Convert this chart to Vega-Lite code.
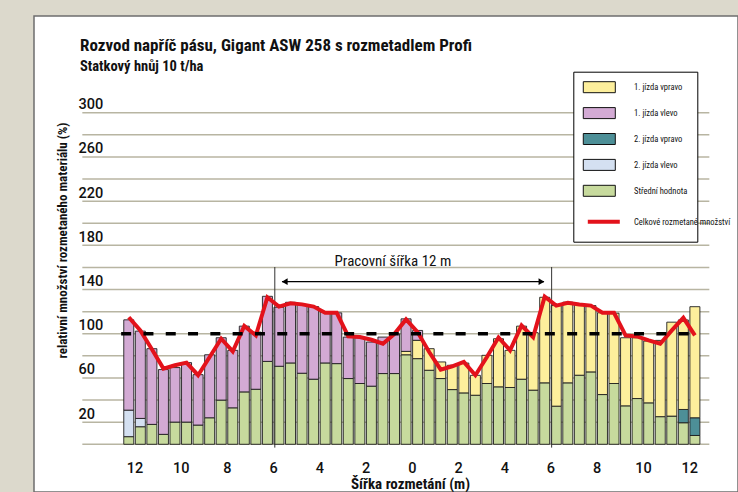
{
  "$schema": "https://vega.github.io/schema/vega-lite/v6.json",
  "autosize": {"type": "none"},
  "width": 704,
  "height": 476,
  "padding": {"left": 34, "top": 16, "right": 0, "bottom": 0},
  "background": "#dcd9cc",
  "config": {
    "view": {"fill": "#ffffff", "stroke": "#6e6e6e", "strokeWidth": 1.5},
    "font": "Liberation Sans Narrow, Arial Narrow, Roboto Condensed, DejaVu Sans Condensed, Liberation Sans, sans-serif"
  },
  "title": {
    "text": "Rozvod napříč pásu, Gigant ASW 258 s rozmetadlem Profi",
    "subtitle": "Statkový hnůj 10 t/ha",
    "anchor": "start",
    "frame": "group",
    "orient": "top",
    "offset": -58.5,
    "dx": 46,
    "fontSize": 17,
    "fontWeight": "bold",
    "color": "#111111",
    "subtitleFontSize": 14.5,
    "subtitleFontWeight": "bold",
    "subtitleColor": "#111111",
    "subtitlePadding": 5
  },
  "datasets": {
    "grid": [
      {"level": 0}, {"level": 20}, {"level": 40}, {"level": 60}, {"level": 80}, {"level": 100}, {"level": 120}, {"level": 140},
      {"level": 160}, {"level": 180}, {"level": 200}, {"level": 220}, {"level": 240}, {"level": 260}, {"level": 280}, {"level": 300}
    ],
    "bars": [
      {"x": -12.25, "part": "Střední hodnota", "jizda": "střed", "strana": "střed", "value": 6.9},
      {"x": -12.25, "part": "2. jízda vlevo", "jizda": "2", "strana": "vlevo", "value": 24},
      {"x": -12.25, "part": "1. jízda vlevo", "jizda": "1", "strana": "vlevo", "value": 81.7},
      {"x": -11.75, "part": "Střední hodnota", "jizda": "střed", "strana": "střed", "value": 15.9},
      {"x": -11.75, "part": "2. jízda vlevo", "jizda": "2", "strana": "vlevo", "value": 7.5},
      {"x": -11.75, "part": "1. jízda vlevo", "jizda": "1", "strana": "vlevo", "value": 79},
      {"x": -11.25, "part": "Střední hodnota", "jizda": "střed", "strana": "střed", "value": 18},
      {"x": -11.25, "part": "1. jízda vlevo", "jizda": "1", "strana": "vlevo", "value": 68.5},
      {"x": -10.75, "part": "Střední hodnota", "jizda": "střed", "strana": "střed", "value": 9},
      {"x": -10.75, "part": "1. jízda vlevo", "jizda": "1", "strana": "vlevo", "value": 58.6},
      {"x": -10.25, "part": "Střední hodnota", "jizda": "střed", "strana": "střed", "value": 20.1},
      {"x": -10.25, "part": "1. jízda vlevo", "jizda": "1", "strana": "vlevo", "value": 49.3},
      {"x": -9.75, "part": "Střední hodnota", "jizda": "střed", "strana": "střed", "value": 20.1},
      {"x": -9.75, "part": "1. jízda vlevo", "jizda": "1", "strana": "vlevo", "value": 53.8},
      {"x": -9.25, "part": "Střední hodnota", "jizda": "střed", "strana": "střed", "value": 17.4},
      {"x": -9.25, "part": "1. jízda vlevo", "jizda": "1", "strana": "vlevo", "value": 45.6},
      {"x": -8.75, "part": "Střední hodnota", "jizda": "střed", "strana": "střed", "value": 24},
      {"x": -8.75, "part": "1. jízda vlevo", "jizda": "1", "strana": "vlevo", "value": 57},
      {"x": -8.25, "part": "Střední hodnota", "jizda": "střed", "strana": "střed", "value": 40},
      {"x": -8.25, "part": "1. jízda vlevo", "jizda": "1", "strana": "vlevo", "value": 56.4},
      {"x": -7.75, "part": "Střední hodnota", "jizda": "střed", "strana": "střed", "value": 33},
      {"x": -7.75, "part": "1. jízda vlevo", "jizda": "1", "strana": "vlevo", "value": 52},
      {"x": -7.25, "part": "Střední hodnota", "jizda": "střed", "strana": "střed", "value": 47.4},
      {"x": -7.25, "part": "1. jízda vlevo", "jizda": "1", "strana": "vlevo", "value": 59.5},
      {"x": -6.75, "part": "Střední hodnota", "jizda": "střed", "strana": "střed", "value": 49.8},
      {"x": -6.75, "part": "1. jízda vlevo", "jizda": "1", "strana": "vlevo", "value": 51.7},
      {"x": -6.25, "part": "Střední hodnota", "jizda": "střed", "strana": "střed", "value": 75},
      {"x": -6.25, "part": "1. jízda vlevo", "jizda": "1", "strana": "vlevo", "value": 58.9},
      {"x": -5.75, "part": "Střední hodnota", "jizda": "střed", "strana": "střed", "value": 70.6},
      {"x": -5.75, "part": "1. jízda vlevo", "jizda": "1", "strana": "vlevo", "value": 53.4},
      {"x": -5.25, "part": "Střední hodnota", "jizda": "střed", "strana": "střed", "value": 73.6},
      {"x": -5.25, "part": "1. jízda vlevo", "jizda": "1", "strana": "vlevo", "value": 54.9},
      {"x": -4.75, "part": "Střední hodnota", "jizda": "střed", "strana": "střed", "value": 64.3},
      {"x": -4.75, "part": "1. jízda vlevo", "jizda": "1", "strana": "vlevo", "value": 62.1},
      {"x": -4.25, "part": "Střední hodnota", "jizda": "střed", "strana": "střed", "value": 58.9},
      {"x": -4.25, "part": "1. jízda vlevo", "jizda": "1", "strana": "vlevo", "value": 65.7},
      {"x": -3.75, "part": "Střední hodnota", "jizda": "střed", "strana": "střed", "value": 73.6},
      {"x": -3.75, "part": "1. jízda vlevo", "jizda": "1", "strana": "vlevo", "value": 45.9},
      {"x": -3.25, "part": "Střední hodnota", "jizda": "střed", "strana": "střed", "value": 73},
      {"x": -3.25, "part": "1. jízda vlevo", "jizda": "1", "strana": "vlevo", "value": 45.9},
      {"x": -2.75, "part": "Střední hodnota", "jizda": "střed", "strana": "střed", "value": 59.5},
      {"x": -2.75, "part": "1. jízda vlevo", "jizda": "1", "strana": "vlevo", "value": 37.5},
      {"x": -2.25, "part": "Střední hodnota", "jizda": "střed", "strana": "střed", "value": 55},
      {"x": -2.25, "part": "1. jízda vlevo", "jizda": "1", "strana": "vlevo", "value": 41.4},
      {"x": -1.75, "part": "Střední hodnota", "jizda": "střed", "strana": "střed", "value": 52.6},
      {"x": -1.75, "part": "1. jízda vlevo", "jizda": "1", "strana": "vlevo", "value": 39.9},
      {"x": -1.25, "part": "Střední hodnota", "jizda": "střed", "strana": "střed", "value": 64},
      {"x": -1.25, "part": "1. jízda vlevo", "jizda": "1", "strana": "vlevo", "value": 33},
      {"x": -0.75, "part": "Střední hodnota", "jizda": "střed", "strana": "střed", "value": 64},
      {"x": -0.75, "part": "1. jízda vlevo", "jizda": "1", "strana": "vlevo", "value": 36},
      {"x": -0.25, "part": "Střední hodnota", "jizda": "střed", "strana": "střed", "value": 81},
      {"x": -0.25, "part": "1. jízda vlevo", "jizda": "1", "strana": "vlevo", "value": 29.5},
      {"x": -0.25, "part": "1. jízda vpravo", "jizda": "1", "strana": "vpravo", "value": 3},
      {"x": 0.25, "part": "Střední hodnota", "jizda": "střed", "strana": "střed", "value": 77.5},
      {"x": 0.25, "part": "1. jízda vlevo", "jizda": "1", "strana": "vlevo", "value": 9},
      {"x": 0.25, "part": "1. jízda vpravo", "jizda": "1", "strana": "vpravo", "value": 16.5},
      {"x": 0.75, "part": "Střední hodnota", "jizda": "střed", "strana": "střed", "value": 67},
      {"x": 0.75, "part": "1. jízda vpravo", "jizda": "1", "strana": "vpravo", "value": 19.5},
      {"x": 1.25, "part": "Střední hodnota", "jizda": "střed", "strana": "střed", "value": 59.5},
      {"x": 1.25, "part": "1. jízda vpravo", "jizda": "1", "strana": "vpravo", "value": 15},
      {"x": 1.75, "part": "Střední hodnota", "jizda": "střed", "strana": "střed", "value": 49.5},
      {"x": 1.75, "part": "1. jízda vpravo", "jizda": "1", "strana": "vpravo", "value": 22},
      {"x": 2.25, "part": "Střední hodnota", "jizda": "střed", "strana": "střed", "value": 46.5},
      {"x": 2.25, "part": "1. jízda vpravo", "jizda": "1", "strana": "vpravo", "value": 27},
      {"x": 2.75, "part": "Střední hodnota", "jizda": "střed", "strana": "střed", "value": 44.4},
      {"x": 2.75, "part": "1. jízda vpravo", "jizda": "1", "strana": "vpravo", "value": 18},
      {"x": 3.25, "part": "Střední hodnota", "jizda": "střed", "strana": "střed", "value": 55},
      {"x": 3.25, "part": "1. jízda vpravo", "jizda": "1", "strana": "vpravo", "value": 25.5},
      {"x": 3.75, "part": "Střední hodnota", "jizda": "střed", "strana": "střed", "value": 52},
      {"x": 3.75, "part": "1. jízda vpravo", "jizda": "1", "strana": "vpravo", "value": 43.5},
      {"x": 4.25, "part": "Střední hodnota", "jizda": "střed", "strana": "střed", "value": 51.4},
      {"x": 4.25, "part": "1. jízda vpravo", "jizda": "1", "strana": "vpravo", "value": 33.6},
      {"x": 4.75, "part": "Střední hodnota", "jizda": "střed", "strana": "střed", "value": 58.9},
      {"x": 4.75, "part": "1. jízda vpravo", "jizda": "1", "strana": "vpravo", "value": 48},
      {"x": 5.25, "part": "Střední hodnota", "jizda": "střed", "strana": "střed", "value": 49},
      {"x": 5.25, "part": "1. jízda vpravo", "jizda": "1", "strana": "vpravo", "value": 52},
      {"x": 5.75, "part": "Střední hodnota", "jizda": "střed", "strana": "střed", "value": 55.6},
      {"x": 5.75, "part": "1. jízda vpravo", "jizda": "1", "strana": "vpravo", "value": 77.4},
      {"x": 6.25, "part": "Střední hodnota", "jizda": "střed", "strana": "střed", "value": 34.5},
      {"x": 6.25, "part": "1. jízda vpravo", "jizda": "1", "strana": "vpravo", "value": 91},
      {"x": 6.75, "part": "Střední hodnota", "jizda": "střed", "strana": "střed", "value": 55.6},
      {"x": 6.75, "part": "1. jízda vpravo", "jizda": "1", "strana": "vpravo", "value": 73},
      {"x": 7.25, "part": "Střední hodnota", "jizda": "střed", "strana": "střed", "value": 62.5},
      {"x": 7.25, "part": "1. jízda vpravo", "jizda": "1", "strana": "vpravo", "value": 64.5},
      {"x": 7.75, "part": "Střední hodnota", "jizda": "střed", "strana": "střed", "value": 65.5},
      {"x": 7.75, "part": "1. jízda vpravo", "jizda": "1", "strana": "vpravo", "value": 60},
      {"x": 8.25, "part": "Střední hodnota", "jizda": "střed", "strana": "střed", "value": 45},
      {"x": 8.25, "part": "1. jízda vpravo", "jizda": "1", "strana": "vpravo", "value": 74},
      {"x": 8.75, "part": "Střední hodnota", "jizda": "střed", "strana": "střed", "value": 55},
      {"x": 8.75, "part": "1. jízda vpravo", "jizda": "1", "strana": "vpravo", "value": 63.6},
      {"x": 9.25, "part": "Střední hodnota", "jizda": "střed", "strana": "střed", "value": 34.8},
      {"x": 9.25, "part": "1. jízda vpravo", "jizda": "1", "strana": "vpravo", "value": 61.6},
      {"x": 9.75, "part": "Střední hodnota", "jizda": "střed", "strana": "střed", "value": 41.4},
      {"x": 9.75, "part": "1. jízda vpravo", "jizda": "1", "strana": "vpravo", "value": 55},
      {"x": 10.25, "part": "Střední hodnota", "jizda": "střed", "strana": "střed", "value": 37.5},
      {"x": 10.25, "part": "1. jízda vpravo", "jizda": "1", "strana": "vpravo", "value": 55.9},
      {"x": 10.75, "part": "Střední hodnota", "jizda": "střed", "strana": "střed", "value": 25},
      {"x": 10.75, "part": "1. jízda vpravo", "jizda": "1", "strana": "vpravo", "value": 69},
      {"x": 11.25, "part": "Střední hodnota", "jizda": "střed", "strana": "střed", "value": 25.5},
      {"x": 11.25, "part": "1. jízda vpravo", "jizda": "1", "strana": "vpravo", "value": 85},
      {"x": 11.75, "part": "Střední hodnota", "jizda": "střed", "strana": "střed", "value": 19.5},
      {"x": 11.75, "part": "2. jízda vpravo", "jizda": "2", "strana": "vpravo", "value": 12},
      {"x": 11.75, "part": "1. jízda vpravo", "jizda": "1", "strana": "vpravo", "value": 81},
      {"x": 12.25, "part": "Střední hodnota", "jizda": "střed", "strana": "střed", "value": 8},
      {"x": 12.25, "part": "2. jízda vpravo", "jizda": "2", "strana": "vpravo", "value": 16},
      {"x": 12.25, "part": "1. jízda vpravo", "jizda": "1", "strana": "vpravo", "value": 100.5}
    ],
    "celkem": [
      {"x": -12.25, "total": 115}, {"x": -11.75, "total": 103}, {"x": -11.25, "total": 86}, {"x": -10.75, "total": 68.5},
      {"x": -10.25, "total": 71.5}, {"x": -9.75, "total": 73.9}, {"x": -9.25, "total": 62.5}, {"x": -8.75, "total": 79},
      {"x": -8.25, "total": 95.5}, {"x": -7.75, "total": 84}, {"x": -7.25, "total": 107}, {"x": -6.75, "total": 98.5},
      {"x": -6.25, "total": 133}, {"x": -5.75, "total": 124.6}, {"x": -5.25, "total": 127.6}, {"x": -4.75, "total": 126.6},
      {"x": -4.25, "total": 124.6}, {"x": -3.75, "total": 119}, {"x": -3.25, "total": 119}, {"x": -2.75, "total": 97.6},
      {"x": -2.25, "total": 97}, {"x": -1.75, "total": 94.6}, {"x": -1.25, "total": 91}, {"x": -0.75, "total": 100},
      {"x": -0.25, "total": 113}, {"x": 0.25, "total": 101.5}, {"x": 0.75, "total": 83.5}, {"x": 1.25, "total": 67.6},
      {"x": 1.75, "total": 70.6}, {"x": 2.25, "total": 74.5}, {"x": 2.75, "total": 62.5}, {"x": 3.25, "total": 79},
      {"x": 3.75, "total": 96.6}, {"x": 4.25, "total": 85}, {"x": 4.75, "total": 107.5}, {"x": 5.25, "total": 97},
      {"x": 5.75, "total": 133.6}, {"x": 6.25, "total": 125.5}, {"x": 6.75, "total": 128}, {"x": 7.25, "total": 126.4},
      {"x": 7.75, "total": 125.5}, {"x": 8.25, "total": 119}, {"x": 8.75, "total": 119}, {"x": 9.25, "total": 98.5},
      {"x": 9.75, "total": 97.6}, {"x": 10.25, "total": 94}, {"x": 10.75, "total": 91}, {"x": 11.25, "total": 103},
      {"x": 11.75, "total": 114.4}, {"x": 12.25, "total": 98.5}
    ],
    "hranice": [{"x": -5.93}, {"x": 6.05}]
  },
  "layer": [
    {
      "data": {"name": "grid"},
      "mark": {"type": "rule", "color": "#b8b5a2", "strokeWidth": 1.5},
      "encoding": {
        "y": {"field": "level", "type": "quantitative", "scale": {"domain": [-43.16, 387.5], "nice": false, "zero": false}},
        "x": {"datum": -14.26, "type": "quantitative", "scale": {"domain": [-16.135, 13.899], "nice": false, "zero": false}},
        "x2": {"datum": 12.875}
      }
    },
    {
      "data": {"name": "bars"},
      "mark": {"type": "bar", "size": 10, "stroke": "#1e1e1e", "strokeWidth": 0.9},
      "encoding": {
        "x": {
          "field": "x", "type": "quantitative",
          "scale": {"domain": [-16.135, 13.899], "nice": false, "zero": false},
          "axis": {
            "values": [-12, -10, -8, -6, -4, -2, 0, 2, 4, 6, 8, 10, 12],
            "labelExpr": "'' + abs(datum.value)",
            "offset": -47.7,
            "domain": false, "ticks": false, "tickSize": 0, "grid": false,
            "labelPadding": 17, "labelFontSize": 14.5, "labelFont": "Roboto", "labelFontWeight": 500, "labelColor": "#111111",
            "labelFlush": false, "labelOverlap": false,
            "title": "Šířka rozmetání (m)",
            "titleFontSize": 15, "titleFontWeight": "bold", "titleColor": "#111111",
            "titleX": 376, "titleY": 44.5, "titleAlign": "center", "titleBaseline": "alphabetic"
          }
        },
        "y": {
          "field": "value", "type": "quantitative", "stack": "zero",
          "scale": {"domain": [-43.16, 387.5], "nice": false, "zero": false},
          "axis": {
            "values": [20, 60, 100, 140, 180, 220, 260, 300],
            "domain": false, "ticks": false, "tickSize": 0, "grid": false,
            "labelAlign": "left", "labelBaseline": "alphabetic", "labelPadding": -44, "labelOffset": -4,
            "labelFontSize": 14.5, "labelFont": "Roboto", "labelFontWeight": 500, "labelColor": "#111111", "labelFlush": false, "labelOverlap": false,
            "title": "relativní množství rozmetaného materiálu (%)",
            "titleFontSize": 13, "titleFontWeight": "bold", "titleColor": "#111111",
            "titleAngle": -90, "titleX": 28, "titleY": 224, "titleAlign": "center", "titleBaseline": "middle"
          }
        },
        "color": {
          "field": "part", "type": "nominal",
          "scale": {
            "domain": ["1. jízda vpravo", "1. jízda vlevo", "2. jízda vpravo", "2. jízda vlevo", "Střední hodnota"],
            "range": ["#fdef9c", "#d3aad4", "#4d8f97", "#d4e0f1", "#c7da9d"]
          },
          "legend": {
            "orient": "none", "legendX": 539.3, "legendY": 55.7,
            "title": " ", "titleOrient": "bottom", "titleFontSize": 12, "titlePadding": 23,
            "fillColor": "#ffffff", "strokeColor": "#000000",
            "padding": 9.5, "symbolSize": 121, "symbolOffset": 10.5,
            "symbolType": "M-2.91,-1H2.91V1H-2.91Z",
            "symbolStrokeColor": "#111111", "symbolStrokeWidth": 1,
            "labelOffset": 28.7, "rowPadding": 9.9,
            "labelFontSize": 8.5, "labelColor": "#111111", "labelLimit": 0
          }
        },
        "order": [{"field": "jizda", "sort": "descending"}, {"field": "strana", "sort": "ascending"}]
      }
    },
    {
      "data": {"name": "hranice"},
      "mark": {"type": "rule", "color": "#333333", "strokeWidth": 1},
      "encoding": {
        "x": {"field": "x", "type": "quantitative", "scale": {"domain": [-16.135, 13.899], "nice": false, "zero": false}},
        "y": {"datum": 160.4, "type": "quantitative", "scale": {"domain": [-43.16, 387.5], "nice": false, "zero": false}},
        "y2": {"datum": -3}
      }
    },
    {
      "data": {"name": "celkem"},
      "mark": {"type": "line", "strokeWidth": 4},
      "encoding": {
        "x": {"field": "x", "type": "quantitative", "scale": {"domain": [-16.135, 13.899], "nice": false, "zero": false}},
        "y": {"field": "total", "type": "quantitative", "scale": {"domain": [-43.16, 387.5], "nice": false, "zero": false}},
        "stroke": {
          "datum": "Celkové rozmetané množství", "type": "nominal",
          "scale": {"domain": ["Celkové rozmetané množství"], "range": ["#e3121b"]},
          "legend": {
            "orient": "none", "legendX": 551.8, "legendY": 187.7,
            "title": null, "padding": 0,
            "symbolType": "stroke", "symbolSize": 1024, "symbolStrokeWidth": 4, "symbolOffset": 0,
            "labelOffset": 12.2, "labelFontSize": 8.5, "labelColor": "#111111", "labelLimit": 0
          }
        }
      }
    },
    {
      "data": {"values": [{}]},
      "mark": {"type": "rule", "color": "#000000", "strokeWidth": 3.5, "strokeDash": [10, 12.3]},
      "encoding": {
        "x": {"datum": -12.58, "type": "quantitative", "scale": {"domain": [-16.135, 13.899], "nice": false, "zero": false}},
        "x2": {"datum": 12.49},
        "y": {"datum": 100, "type": "quantitative", "scale": {"domain": [-43.16, 387.5], "nice": false, "zero": false}}
      }
    },
    {
      "data": {"values": [{}]},
      "mark": {"type": "rule", "color": "#000000", "strokeWidth": 1.3},
      "encoding": {
        "x": {"datum": -5.62, "type": "quantitative", "scale": {"domain": [-16.135, 13.899], "nice": false, "zero": false}},
        "x2": {"datum": 5.72},
        "y": {"datum": 147.1, "type": "quantitative", "scale": {"domain": [-43.16, 387.5], "nice": false, "zero": false}}
      }
    },
    {
      "data": {"values": [{}]},
      "mark": {"type": "point", "shape": "triangle-left", "filled": true, "size": 45, "color": "#000000", "opacity": 1},
      "encoding": {
        "x": {"datum": -5.5, "type": "quantitative", "scale": {"domain": [-16.135, 13.899], "nice": false, "zero": false}},
        "y": {"datum": 147.1, "type": "quantitative", "scale": {"domain": [-43.16, 387.5], "nice": false, "zero": false}}
      }
    },
    {
      "data": {"values": [{}]},
      "mark": {"type": "point", "shape": "triangle-right", "filled": true, "size": 45, "color": "#000000", "opacity": 1},
      "encoding": {
        "x": {"datum": 5.61, "type": "quantitative", "scale": {"domain": [-16.135, 13.899], "nice": false, "zero": false}},
        "y": {"datum": 147.1, "type": "quantitative", "scale": {"domain": [-43.16, 387.5], "nice": false, "zero": false}}
      }
    },
    {
      "data": {"values": [{}]},
      "mark": {"type": "text", "text": "Pracovní šířka 12 m", "fontSize": 15, "color": "#111111", "align": "center", "baseline": "middle"},
      "encoding": {
        "x": {"datum": -0.82, "type": "quantitative", "scale": {"domain": [-16.135, 13.899], "nice": false, "zero": false}},
        "y": {"datum": 165.8, "type": "quantitative", "scale": {"domain": [-43.16, 387.5], "nice": false, "zero": false}}
      }
    }
  ]
}
